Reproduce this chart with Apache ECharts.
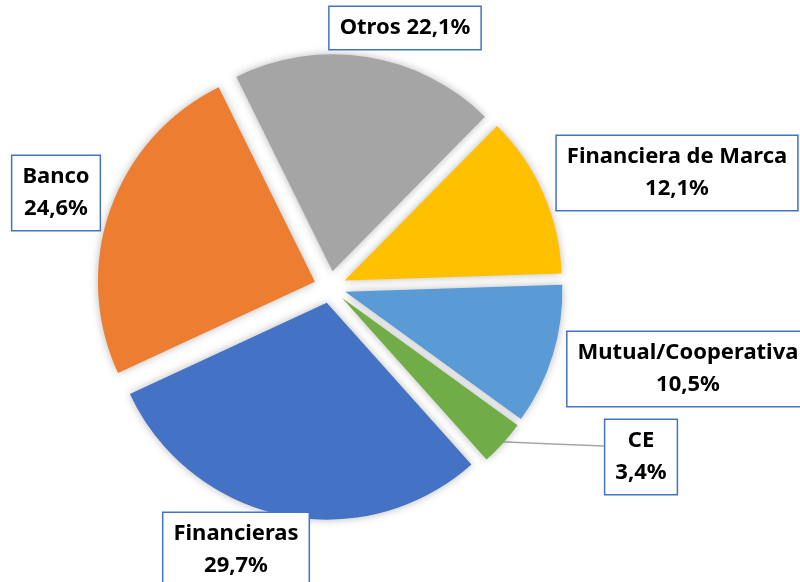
<!DOCTYPE html>
<html>
<head>
<meta charset="utf-8">
<script src="https://cdn.jsdelivr.net/npm/echarts@6/dist/echarts.min.js"></script>
<style>
  html, body { margin: 0; padding: 0; background: #fff; }
  #chart { width: 800px; height: 582px; }
</style>
</head>
<body>
<div id="chart"></div>
<script>
// categorias en sentido horario, empezando por Financiera de Marca
const categorias = ['Financiera de Marca', 'Mutual/Cooperativa', 'CE', 'Financieras', 'Banco', 'Otros'];
// tamaño de cada porcion tal como se dibuja (la porcion de Otros mide ~19,7%)
const valores = [12.1, 10.5, 3.4, 29.7, 24.6, 19.7];
// porcentaje escrito en cada etiqueta
const etiquetas = ['12,1%', '10,5%', '3,4%', '29,7%', '24,6%', '22,1%'];

const colores = ['#FFC000', '#5B9BD5', '#70AD47', '#4472C4', '#ED7D31', '#A5A5A5'];
// centro de cada caja de etiqueta
const posEtiquetas = [[677, 173], [688, 369], [641, 457], [236, 550], [56, 193], [405, 28]];

const chart = echarts.init(document.getElementById('chart'));

const base = {
  type: 'pie',
  center: [330, 287],
  startAngle: 45.4,
  clockwise: true,
  avoidLabelOverlap: false,
  emphasis: { disabled: true }
};

chart.setOption({
  animation: false,
  series: [
    // porciones separadas (sin etiquetas)
    Object.assign({}, base, {
      radius: 217,
      selectedMode: 'multiple',
      selectedOffset: 16,
      label: { show: false },
      labelLine: { show: false },
      itemStyle: {
        borderWidth: 0,
        shadowBlur: 8,
        shadowColor: 'rgba(0,0,0,0.28)'
      },
      data: categorias.map((nombre, i) => ({
        name: nombre,
        value: valores[i],
        selected: true,
        itemStyle: { color: colores[i] }
      }))
    }),
    // capa transparente que solo lleva las etiquetas
    Object.assign({}, base, {
      radius: 231,
      silent: true,
      itemStyle: { color: 'rgba(0,0,0,0)' },
      label: {
        show: true,
        position: 'outside',
        formatter: p => p.name + (p.name === 'Otros' ? ' ' : '\n') + etiquetas[p.dataIndex],
        fontFamily: 'Noto Sans',
        fontWeight: 'bold',
        fontSize: 22,
        lineHeight: 32,
        color: '#000',
        align: 'center',
        backgroundColor: '#fff',
        borderColor: '#4472C4',
        borderWidth: 1.5,
        padding: [5, 10, 5, 10]
      },
      labelLine: {
        show: false,
        length: 20,
        length2: 60,
        lineStyle: { color: '#A6A6A6', width: 1.5 }
      },
      labelLayout: function (params) {
        const p = posEtiquetas[params.dataIndex];
        const out = { x: p[0], y: p[1], align: 'center', verticalAlign: 'middle' };
        if (params.labelLinePoints && categorias[params.dataIndex] === 'CE') {
          // linea guia casi horizontal hasta el borde izquierdo de la caja
          const s = params.labelLinePoints[0];
          const e = [p[0] - params.labelRect.width / 2, p[1] - 11];
          out.labelLinePoints = [s, [(s[0] + e[0]) / 2, (s[1] + e[1]) / 2], e];
        }
        return out;
      },
      data: categorias.map((nombre, i) => ({
        name: nombre,
        value: valores[i],
        labelLine: { show: nombre === 'CE' }
      }))
    })
  ]
});
</script>
</body>
</html>
